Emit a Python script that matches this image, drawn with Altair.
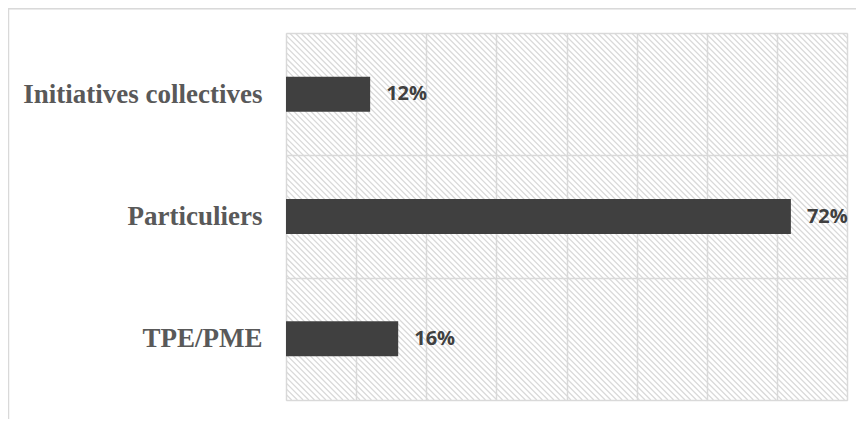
import altair as alt
import pandas as pd

# Data
categories = ["Initiatives collectives", "Particuliers", "TPE/PME"]
values = [12, 72, 16]
labels = ["12%", "72%", "16%"]

W, H = 561, 367
STEP = 5.7

df = pd.DataFrame({"cat": categories, "value": values, "label": labels})

# decorative hatch pattern (pixel-unit scales of its own)
n = int((W + H) / STEP) + 2
hatch_df = pd.DataFrame({
    "x0": [k * STEP - H for k in range(n)],
    "x1": [k * STEP for k in range(n)],
    "y0": [H] * n,
    "y1": [0] * n,
})

hatch = alt.Chart(hatch_df).mark_rule(clip=True, color="#d9d9d9", strokeWidth=1.3).encode(
    x=alt.X("x0:Q", scale=alt.Scale(domain=[0, W], nice=False, zero=False), axis=None),
    x2="x1:Q",
    y=alt.Y("y0:Q", scale=alt.Scale(domain=[0, H], nice=False, zero=False), axis=None),
    y2="y1:Q",
)

base = alt.Chart(df).encode(
    x=alt.X(
        "value:Q",
        scale=alt.Scale(domain=[0, 80], nice=False),
        axis=alt.Axis(
            values=list(range(0, 81, 10)), labels=False, ticks=False, domain=False,
            grid=True, gridColor="#d9d9d9", gridWidth=1.5, title=None,
        ),
    ),
    y=alt.Y(
        "cat:N",
        sort=categories,
        scale=alt.Scale(paddingInner=0, paddingOuter=0),
        axis=alt.Axis(
            tickBand="extent", grid=True, gridColor="#d9d9d9", gridWidth=1.5,
            ticks=False, domain=False, title=None,
            labelFont="Liberation Serif", labelFontWeight="bold", labelFontSize=27,
            labelColor="#595959", labelPadding=24, labelLimit=400,
        ),
    ),
)

bars = base.mark_bar(color="#404040", size=35)
text = base.mark_text(
    align="left", baseline="middle", dx=16, font="Open Sans", fontWeight="bold",
    fontSize=20, color="#404040",
).encode(text="label:N")

border = alt.Chart(df).mark_rect(fill=None, stroke="#d9d9d9", strokeWidth=1.2, clip=False).encode(
    x=alt.value(-277.5), x2=alt.value(590), y=alt.value(-24.4), y2=alt.value(420)
)

chart = alt.layer(
    hatch, alt.layer(bars, text, border)
).resolve_scale(x="independent", y="independent").properties(
    width=W, height=H,
    autosize=alt.AutoSizeParams(type="none"),
    padding={"left": 278, "top": 25, "right": 9, "bottom": 19},
).configure_view(stroke=None).configure(background="white")

chart.save("out.html", embed_options={"renderer": "svg", "actions": False})
